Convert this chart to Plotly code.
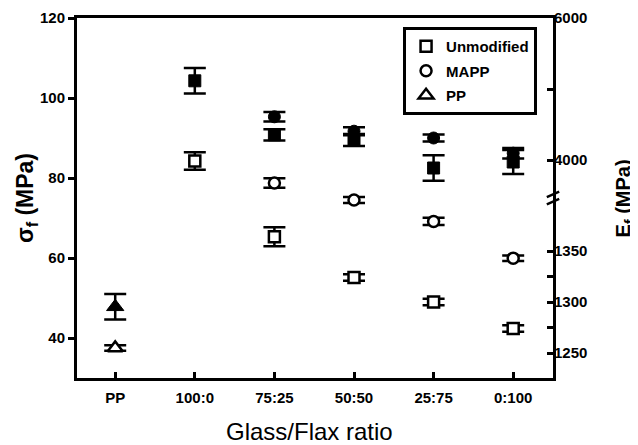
import plotly.graph_objects as go

# ---------------- data ----------------
categories = ["PP", "100:0", "75:25", "50:50", "25:75", "0:100"]

# Flexural strength sigma_f (MPa), left axis  (filled markers)
unmod_sigma_cat = ["100:0", "75:25", "50:50", "25:75", "0:100"]
unmod_sigma = [104.3, 90.8, 89.5, 82.5, 84.0]
unmod_sigma_err = [3.2, 1.4, 1.5, 3.2, 3.0]

mapp_sigma_cat = ["75:25", "50:50", "25:75", "0:100"]
mapp_sigma = [95.3, 91.7, 90.0, 86.2]
mapp_sigma_err = [1.2, 1.0, 0.9, 1.3]

pp_sigma_cat = ["PP"]
pp_sigma = [47.8]
pp_sigma_err = [3.2]

# Flexural modulus E_f (MPa), right (broken) axis  (open markers)
unmod_E_cat = ["100:0", "75:25", "50:50", "25:75", "0:100"]
unmod_E = [3986, 1364, 1324, 1300, 1274]
unmod_E_err = [124, 9.4, 3.1, 3.1, 3.1]

mapp_E_cat = ["75:25", "50:50", "25:75", "0:100"]
mapp_E = [3676, 1400, 1379, 1343]
mapp_E_err = [68, 3.0, 3.5, 2.7]

pp_E_cat = ["PP"]
pp_E = [1255]
pp_E_err = [2.7]

# right axis ticks (MPa)
E_major_vals = [1250, 1300, 1350, 4000, 6000]
E_major_text = ["1250", "1300", "1350", "4000", "6000"]
E_minor_vals = [1275, 1325, 5000]
left_tick_vals = [40, 60, 80, 100, 120]

# ---------------- broken right-axis scale ----------------
Y_RANGE = [30, 120]
BREAK_Y = 75.0


def e_to_y(E):
    """Map modulus (MPa) on the broken right axis to left-axis coordinates."""
    if E < 2000:
        return 36.25 + (E - 1250) * 12.75 / 50.0
    return 84.5 + (E - 4000) * 17.75 / 1000.0


def mapped(vals, errs):
    ys = [e_to_y(v) for v in vals]
    ep = [e_to_y(v + e) - e_to_y(v) for v, e in zip(vals, errs)]
    em = [e_to_y(v) - e_to_y(v - e) for v, e in zip(vals, errs)]
    return ys, ep, em


FONT = "Arial, Liberation Sans, sans-serif"
fig = go.Figure()


def err(arr, arrm=None):
    d = dict(type="data", array=arr, visible=True, color="black",
             thickness=2.5, width=11)
    if arrm is not None:
        d["symmetric"] = False
        d["arrayminus"] = arrm
    return d


# filled (strength)
filled = [
    (unmod_sigma_cat, unmod_sigma, unmod_sigma_err, "square", 12),
    (mapp_sigma_cat, mapp_sigma, mapp_sigma_err, "circle", 12),
    (pp_sigma_cat, pp_sigma, pp_sigma_err, "triangle-up", 15),
]
for cat, v, e, sym, sz in filled:
    fig.add_trace(go.Scatter(
        x=cat, y=v, mode="markers", showlegend=False,
        marker=dict(symbol=sym, size=sz, color="black",
                    line=dict(color="black", width=1)),
        error_y=err(e)))

# open (modulus)
opens = [
    ("Unmodified", unmod_E_cat, unmod_E, unmod_E_err, "square", 11),
    ("MAPP", mapp_E_cat, mapp_E, mapp_E_err, "circle", 11),
    ("PP", pp_E_cat, pp_E, pp_E_err, "triangle-up", 13),
]
for i, (name, cat, v, e, sym, sz) in enumerate(opens):
    ys, ep, em = mapped(v, e)
    fig.add_trace(go.Scatter(
        x=cat, y=ys, mode="markers", name=name, legendgroup=str(i),
        marker=dict(symbol=sym, size=sz, color="white",
                    line=dict(color="black", width=2.5)),
        error_y=err(ep, em)))

# invisible trace to activate right axis
fig.add_trace(go.Scatter(x=[categories[0]], y=[None], yaxis="y2",
                         showlegend=False, hoverinfo="skip"))

TF = dict(family=FONT, size=15, color="black", weight="bold")

# page body has an 8px default margin: figure is 630x437 placed at (8,8)
fig.update_layout(
    width=630, height=437,
    margin=dict(l=69, r=85, t=10, b=67, autoexpand=False),
    paper_bgcolor="white", plot_bgcolor="white",
    showlegend=True,
    font=dict(family=FONT, color="black"),
    xaxis=dict(
        type="category", categoryorder="array", categoryarray=categories,
        range=[-0.48, 5.5], showgrid=False, zeroline=False, automargin=False,
        showline=True, linecolor="black", linewidth=3, mirror=True,
        ticks="inside", ticklen=6, tickwidth=3, tickcolor="black",
        tickfont=TF, ticklabelstandoff=4,
    ),
    yaxis=dict(
        range=Y_RANGE, tickmode="array", tickvals=left_tick_vals,
        showgrid=False, zeroline=False, automargin=False,
        showline=True, linecolor="black", linewidth=3,
        ticks="outside", ticklen=6, tickwidth=3, tickcolor="black",
        tickfont=TF,
    ),
    yaxis2=dict(
        overlaying="y", side="right", range=Y_RANGE, automargin=False,
        tickmode="array",
        tickvals=[e_to_y(v) for v in E_major_vals], ticktext=E_major_text,
        minor=dict(tickmode="array",
                   tickvals=[e_to_y(v) for v in E_minor_vals],
                   ticks="inside", ticklen=6, tickwidth=3, tickcolor="black",
                   showgrid=False),
        showgrid=False, zeroline=False,
        showline=True, linecolor="black", linewidth=3,
        ticks="inside", ticklen=6, tickwidth=3, tickcolor="black",
        tickfont=TF, ticklabelstandoff=-5,
    ),
    legend=dict(
        x=0.685, y=0.975, xanchor="left", yanchor="top",
        bordercolor="black", borderwidth=3, bgcolor="white",
        font=dict(family=FONT, size=15, color="black", weight="bold"),
        traceorder="grouped", tracegroupgap=2, itemwidth=30,
    ),
    annotations=[
        dict(text="<b>σ<sub>f</sub> (MPa)</b>", xref="paper", yref="paper",
             x=-0.107, y=0.5, xanchor="center", yanchor="middle",
             textangle=-90, showarrow=False,
             font=dict(family=FONT, size=23, color="black")),
        dict(text="<b>E<sub>f</sub> (MPa)</b>", xref="paper", yref="paper",
             x=1.15, y=0.5, xanchor="center", yanchor="middle",
             textangle=-90, showarrow=False,
             font=dict(family=FONT, size=20, color="black")),
        dict(text="Glass/Flax ratio", xref="paper", yref="paper",
             x=0.489, y=-0.15, xanchor="center", yanchor="middle",
             showarrow=False,
             font=dict(family=FONT, size=24, color="black")),
    ],
    shapes=[
        dict(type="line", xref="paper", yref="y", x0=0.987, x1=1.013,
             y0=BREAK_Y - 1.6, y1=BREAK_Y - 0.2,
             line=dict(color="black", width=2.5)),
        dict(type="line", xref="paper", yref="y", x0=0.987, x1=1.013,
             y0=BREAK_Y + 0.2, y1=BREAK_Y + 1.6,
             line=dict(color="black", width=2.5)),
    ],
)

fig.write_html("out.html")
